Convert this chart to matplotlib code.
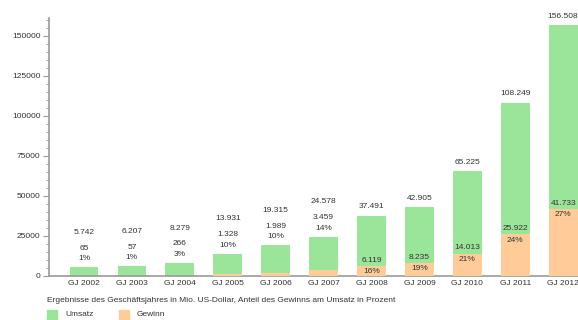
import matplotlib
matplotlib.use("Agg")
import matplotlib.pyplot as plt
from matplotlib.patches import Rectangle
from matplotlib.ticker import MultipleLocator

plt.rcParams['font.family'] = ['Liberation Sans', 'DejaVu Sans']

# data (Mio. US-Dollar)
years = ['GJ 2002', 'GJ 2003', 'GJ 2004', 'GJ 2005', 'GJ 2006', 'GJ 2007',
         'GJ 2008', 'GJ 2009', 'GJ 2010', 'GJ 2011', 'GJ 2012']
umsatz = [5742, 6207, 8279, 13931, 19315, 24578, 37491, 42905, 65225, 108249, 156508]
gewinn = [65, 57, 266, 1328, 1989, 3459, 6119, 8235, 14013, 25922, 41733]
anteil = [1, 1, 3, 10, 10, 14, 16, 19, 21, 24, 27]

GREEN = '#9be59b'
ORANGE = '#ffcc99'
TXT = '#333333'
AXC = '#999999'
FS = 6


def fmt(v):
    return f'{v:,}'.replace(',', '.')


def label(txt, xy, dy):
    ax.annotate(txt, xy, xytext=(0, dy), textcoords='offset points',
                ha='center', va='center', fontsize=FS, color=TXT, zorder=4)


fig = plt.figure(figsize=(5.78, 3.2), dpi=100)
ax = fig.add_axes([49 / 578, 44 / 320, 1 - 49 / 578, 258 / 320])

x = list(range(len(years)))
ax.bar(x, umsatz, width=0.6, color=GREEN, zorder=2)
ax.bar(x, gewinn, width=0.6, color=ORANGE, zorder=3)

for i in x:
    if umsatz[i] < 30000:
        # small bars: all labels stacked above the bar
        label(f'{anteil[i]}%', (i, umsatz[i]), 6)
        label(fmt(gewinn[i]), (i, umsatz[i]), 13.5)
        label(fmt(umsatz[i]), (i, umsatz[i]), 25)
    else:
        label(fmt(umsatz[i]), (i, umsatz[i]), 6.5)
        label(fmt(gewinn[i]), (i, gewinn[i]), 4)
        label(f'{anteil[i]}%', (i, gewinn[i]), -4)

ax.set_xlim(-0.73, 10.31)
ax.set_ylim(0, 161000)
ax.set_xticks(x)
ax.set_xticklabels(years)
ax.yaxis.set_major_locator(MultipleLocator(25000))
ax.yaxis.set_minor_locator(MultipleLocator(5000))
ax.tick_params(axis='y', which='major', length=4, width=0.8, color=AXC, labelsize=FS,
               labelcolor=TXT, pad=2)
ax.tick_params(axis='y', which='minor', length=2, width=0.6, color=AXC)
ax.tick_params(axis='x', length=0, labelsize=FS, labelcolor=TXT, pad=3)

for s in ['top', 'right']:
    ax.spines[s].set_visible(False)
for s in ['left', 'bottom']:
    ax.spines[s].set_color(AXC)
    ax.spines[s].set_linewidth(1.2)

# legend
fig.text(47 / 578, 1 - 300 / 320, 'Ergebnisse des Geschäftsjahres in Mio. US-Dollar, '
         'Anteil des Gewinns am Umsatz in Prozent', fontsize=FS, color=TXT, va='center')
fig.patches.append(Rectangle((47 / 578, 1 - 319 / 320), 10 / 578, 9 / 320,
                             transform=fig.transFigure, color=GREEN))
fig.text(65 / 578, 1 - 314 / 320, 'Umsatz', fontsize=FS, color=TXT, va='center')
fig.patches.append(Rectangle((119 / 578, 1 - 319 / 320), 10 / 578, 9 / 320,
                             transform=fig.transFigure, color=ORANGE))
fig.text(137 / 578, 1 - 314 / 320, 'Gewinn', fontsize=FS, color=TXT, va='center')

fig.savefig('out.png', dpi=100)
